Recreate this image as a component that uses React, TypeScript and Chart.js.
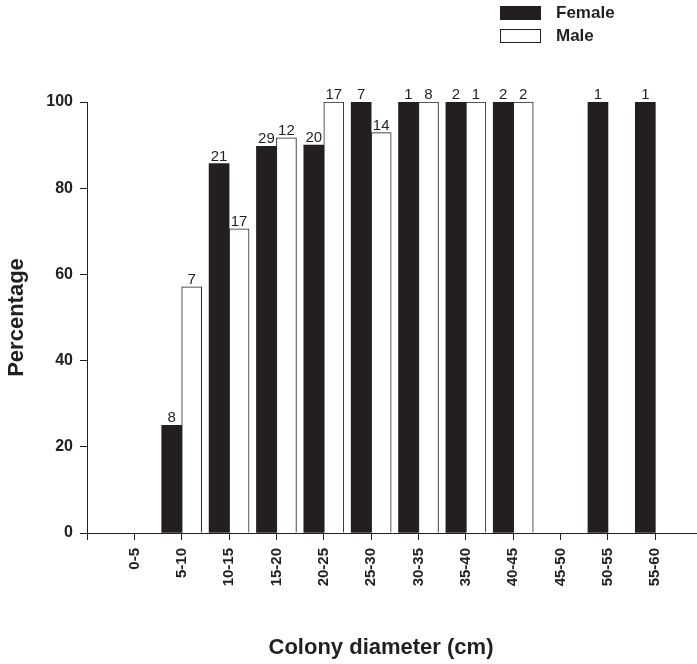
import React, { useEffect, useRef } from 'react';
import { Chart, registerables } from 'chart.js';

Chart.register(...registerables);

const categories = ['0-5', '5-10', '10-15', '15-20', '20-25', '25-30', '30-35', '35-40', '40-45', '45-50', '50-55', '55-60'];
const femalePct: (number | null)[] = [null, 25, 85.7, 89.7, 90, 100, 100, 100, 100, null, 100, 100];
const malePct: (number | null)[] = [null, 57.1, 70.6, 91.7, 100, 92.9, 100, 100, 100, null, null, null];
const femaleN: (number | null)[] = [null, 8, 21, 29, 20, 7, 1, 2, 2, null, 1, 1];
const maleN: (number | null)[] = [null, 7, 17, 12, 17, 14, 8, 1, 2, null, null, null];
const yTicks = [0, 20, 40, 60, 80, 100];
const seriesNames = ['Female', 'Male'];

const INK = '#231f20';
const FONT = '"Liberation Sans", Arial, sans-serif';

const toPoints = (vals: (number | null)[]) =>
  vals.map((y, i) => ({ x: i, y })).filter((p) => p.y !== null);

const annotate = {
  id: 'annotate',
  afterDatasetsDraw(chart: any) {
    const ctx = chart.ctx as CanvasRenderingContext2D;
    const ca = chart.chartArea;
    ctx.save();
    ctx.fillStyle = INK;
    // counts above bars
    ctx.font = `15px ${FONT}`;
    ctx.textAlign = 'center';
    ctx.textBaseline = 'alphabetic';
    [femaleN, maleN].forEach((counts, di) => {
      const meta = chart.getDatasetMeta(di);
      meta.data.forEach((bar: any, j: number) => {
        const raw = chart.data.datasets[di].data[j];
        const n = counts[raw.x];
        if (n != null) ctx.fillText(String(n), bar.x, bar.y - 3);
      });
    });
    // legend
    const lx = 500;
    const rows = [
      { y: 6, fill: INK },
      { y: 29, fill: '#ffffff' },
    ];
    ctx.font = `bold 17px ${FONT}`;
    ctx.textAlign = 'left';
    ctx.textBaseline = 'middle';
    rows.forEach((r, i) => {
      ctx.fillStyle = r.fill;
      ctx.fillRect(lx, r.y, 40, 13);
      ctx.strokeStyle = INK;
      ctx.lineWidth = 1;
      ctx.strokeRect(lx + 0.5, r.y + 0.5, 40, 13);
      ctx.fillStyle = INK;
      ctx.fillText(seriesNames[i], 556, r.y + 7);
    });
    // axis titles
    ctx.font = `bold 22px ${FONT}`;
    ctx.textAlign = 'center';
    ctx.textBaseline = 'middle';
    ctx.fillText('Colony diameter (cm)', 381, 648);
    ctx.translate(17, (ca.top + ca.bottom) / 2);
    ctx.rotate(-Math.PI / 2);
    ctx.fillText('Percentage', 0, 0);
    ctx.restore();
  },
};

export default function App() {
  const ref = useRef<HTMLCanvasElement | null>(null);
  useEffect(() => {
    if (!ref.current) return;
    Chart.defaults.font.family = FONT;
    const chart = new Chart(ref.current, {
      type: 'bar',
      data: {
        datasets: [
          {
            label: seriesNames[0],
            data: toPoints(femalePct) as any,
            backgroundColor: INK,
            borderColor: INK,
            borderWidth: 0,
            barThickness: 20,
          },
          {
            label: seriesNames[1],
            data: toPoints(malePct) as any,
            backgroundColor: '#ffffff',
            borderColor: INK,
            borderWidth: 1,
            barThickness: 20,
          },
        ],
      },
      options: {
        responsive: false,
        animation: false,
        layout: { padding: { top: 102, left: 0, right: 0, bottom: 0 } },
        plugins: { legend: { display: false }, tooltip: { enabled: false }, title: { display: false } },
        scales: {
          x: {
            type: 'linear',
            offset: false,
            min: -1,
            max: 11.88,
            afterBuildTicks: (scale: any) => {
              scale.ticks = [-1, ...categories.map((_, i) => i)].map((v) => ({ value: v }));
            },
            afterFit: (scale: any) => {
              scale.height = 131;
            },
            grid: { offset: false, drawOnChartArea: false, drawTicks: true, tickLength: 7, color: INK },
            border: { color: INK, width: 1 },
            ticks: {
              autoSkip: false,
              maxRotation: 90,
              minRotation: 90,
              padding: 8,
              color: INK,
              font: { size: 15, weight: 'bold', family: FONT },
              callback: (v: any) => categories[v] ?? '',
            },
          },
          y: {
            min: 0,
            max: 100,
            afterBuildTicks: (scale: any) => {
              scale.ticks = yTicks.map((v) => ({ value: v }));
            },
            afterFit: (scale: any) => {
              scale.width = 87;
            },
            grid: { drawOnChartArea: false, drawTicks: true, tickLength: 7, color: INK },
            border: { color: INK, width: 1 },
            ticks: {
              padding: 7,
              color: INK,
              font: { size: 16, weight: 'bold', family: FONT },
            },
          },
        },
      } as any,
      plugins: [annotate],
    });
    return () => chart.destroy();
  }, []);
  return (
    <canvas
      ref={ref}
      width={697}
      height={664}
      style={{ position: 'absolute', left: 0, top: 0, display: 'block' }}
    />
  );
}
